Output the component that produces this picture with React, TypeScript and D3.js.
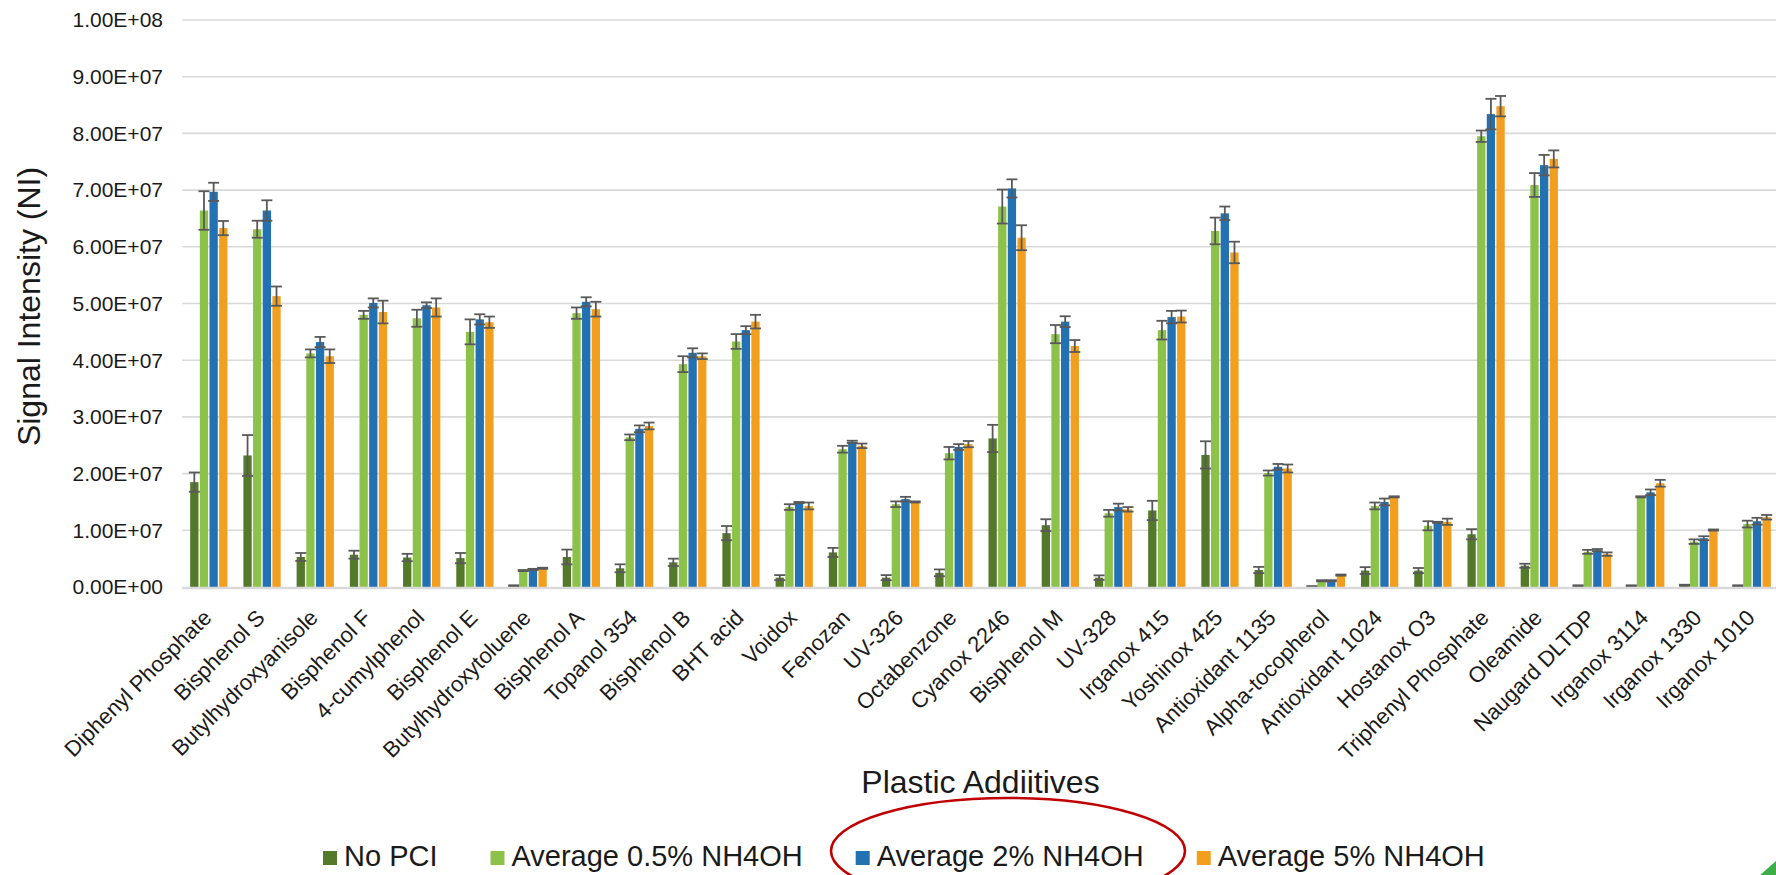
import React, { useEffect, useRef } from 'react';
import * as d3 from 'd3';

const categories = [
  'Diphenyl Phosphate', 'Bisphenol S', 'Butylhydroxyanisole', 'Bisphenol F', '4-cumylphenol',
  'Bisphenol E', 'Butylhydroxytoluene', 'Bisphenol A', 'Topanol 354', 'Bisphenol B',
  'BHT acid', 'Voidox', 'Fenozan', 'UV-326', 'Octabenzone',
  'Cyanox 2246', 'Bisphenol M', 'UV-328', 'Irganox 415', 'Yoshinox 425',
  'Antioxidant 1135', 'Alpha-tocopherol', 'Antioxidant 1024', 'Hostanox O3', 'Triphenyl Phosphate',
  'Oleamide', 'Naugard DLTDP', 'Irganox 3114', 'Irganox 1330', 'Irganox 1010',
];

const seriesNames = ['No PCI', 'Average 0.5% NH4OH', 'Average 2% NH4OH', 'Average 5% NH4OH'];
const seriesColors = ['#55792B', '#8DC24A', '#2271B3', '#F29E1F'];

// values in units of 1e7
const noPci = [1.85, 2.32, 0.53, 0.57, 0.52, 0.51, 0.02, 0.53, 0.33, 0.435, 0.95, 0.165, 0.61, 0.165, 0.25, 2.62, 1.09, 0.165, 1.35, 2.33, 0.30, 0.01, 0.29, 0.29, 0.93, 0.375, 0.02, 0.02, 0.03, 0.02];
const avg05 = [6.64, 6.31, 4.12, 4.80, 4.74, 4.50, 0.29, 4.83, 2.64, 3.93, 4.33, 1.41, 2.43, 1.46, 2.36, 6.71, 4.46, 1.30, 4.53, 6.28, 2.01, 0.11, 1.43, 1.08, 7.95, 7.09, 0.62, 1.59, 0.80, 1.11];
const avg2 = [6.97, 6.64, 4.32, 5.01, 4.97, 4.72, 0.31, 5.03, 2.79, 4.13, 4.53, 1.49, 2.56, 1.55, 2.47, 7.03, 4.68, 1.41, 4.76, 6.59, 2.12, 0.11, 1.50, 1.14, 8.34, 7.44, 0.65, 1.67, 0.86, 1.16];
const avg5 = [6.33, 5.13, 4.07, 4.85, 4.93, 4.67, 0.33, 4.90, 2.84, 4.07, 4.68, 1.43, 2.49, 1.50, 2.52, 6.16, 4.25, 1.37, 4.77, 5.90, 2.09, 0.21, 1.59, 1.15, 8.48, 7.55, 0.58, 1.83, 1.005, 1.23];

const errNoPci = [0.17, 0.36, 0.07, 0.07, 0.065, 0.09, 0.01, 0.13, 0.07, 0.065, 0.125, 0.045, 0.08, 0.045, 0.06, 0.24, 0.105, 0.04, 0.17, 0.24, 0.055, 0.005, 0.06, 0.045, 0.09, 0.035, 0.01, 0.01, 0.01, 0.01];
const err05 = [0.34, 0.15, 0.07, 0.07, 0.15, 0.22, 0.01, 0.10, 0.05, 0.14, 0.13, 0.05, 0.06, 0.05, 0.11, 0.30, 0.16, 0.06, 0.165, 0.235, 0.045, 0.01, 0.06, 0.08, 0.10, 0.21, 0.035, 0.01, 0.04, 0.06];
const err2 = [0.16, 0.18, 0.09, 0.08, 0.05, 0.09, 0.01, 0.08, 0.06, 0.08, 0.07, 0.01, 0.02, 0.04, 0.05, 0.16, 0.095, 0.06, 0.11, 0.12, 0.05, 0.01, 0.06, 0.01, 0.27, 0.18, 0.02, 0.05, 0.035, 0.06];
const err5 = [0.125, 0.17, 0.12, 0.20, 0.16, 0.10, 0.01, 0.13, 0.06, 0.05, 0.12, 0.06, 0.04, 0.01, 0.055, 0.22, 0.105, 0.04, 0.105, 0.19, 0.07, 0.01, 0.01, 0.055, 0.18, 0.15, 0.03, 0.06, 0.01, 0.04];

const yTicks = [0, 1e7, 2e7, 3e7, 4e7, 5e7, 6e7, 7e7, 8e7, 9e7, 1e8];

const FONT = '"Liberation Sans", Arial, sans-serif';

function fmtSci(v: number): string {
  if (v === 0) return '0.00E+00';
  const e = Math.floor(Math.log10(v) + 1e-9);
  const m = v / Math.pow(10, e);
  return `${m.toFixed(2)}E+${String(e).padStart(2, '0')}`;
}

export default function App() {
  const ref = useRef<SVGSVGElement>(null);

  useEffect(() => {
    const svg = d3.select(ref.current);
    svg.selectAll('*').remove();

    const left = 182.2, right = 1778.8, top = 20, bottom = 587;
    const values = [noPci, avg05, avg2, avg5];
    const errs = [errNoPci, err05, err2, err5];

    const x0 = d3.scaleBand<string>().domain(categories).range([left, right]).paddingInner(0.3).paddingOuter(0.15);
    const x1 = d3.scaleBand<string>().domain(seriesNames).range([0, x0.bandwidth()]).paddingInner(0.14);
    const y = d3.scaleLinear().domain([0, 1e8]).range([bottom, top]);

    // gridlines
    svg.append('g').selectAll('line').data(yTicks.filter(t => t > 0)).join('line')
      .attr('x1', left).attr('x2', right)
      .attr('y1', d => y(d)).attr('y2', d => y(d))
      .attr('stroke', '#D9D9D9').attr('stroke-width', 1.6);

    // y tick labels
    svg.append('g').selectAll('text').data(yTicks).join('text')
      .attr('x', 163).attr('y', d => y(d)).attr('dy', '0.35em')
      .attr('text-anchor', 'end')
      .attr('font-family', FONT).attr('font-size', 21).attr('fill', '#1a1a1a')
      .text(d => fmtSci(d));

    // bars
    const groups = svg.append('g').selectAll('g').data(categories).join('g')
      .attr('transform', (d) => `translate(${x0(d)},0)`);

    seriesNames.forEach((s, si) => {
      groups.append('rect')
        .attr('x', x1(s)!)
        .attr('width', x1.bandwidth())
        .attr('y', (_d, i) => y(values[si][i] * 1e7))
        .attr('height', (_d, i) => bottom - y(values[si][i] * 1e7))
        .attr('fill', seriesColors[si]);
    });

    // error bars
    seriesNames.forEach((s, si) => {
      const cx = x1(s)! + x1.bandwidth() / 2;
      const eb = groups.append('g').attr('stroke', '#595959').attr('stroke-width', 1.8).attr('fill', 'none');
      eb.append('line')
        .attr('x1', cx).attr('x2', cx)
        .attr('y1', (_d, i) => y((values[si][i] + errs[si][i]) * 1e7))
        .attr('y2', (_d, i) => y(Math.max(0, values[si][i] - errs[si][i]) * 1e7));
      eb.append('line')
        .attr('x1', cx - 5.5).attr('x2', cx + 5.5)
        .attr('y1', (_d, i) => y((values[si][i] + errs[si][i]) * 1e7))
        .attr('y2', (_d, i) => y((values[si][i] + errs[si][i]) * 1e7));
      eb.append('line')
        .attr('x1', cx - 5.5).attr('x2', cx + 5.5)
        .attr('y1', (_d, i) => y(Math.max(0, values[si][i] - errs[si][i]) * 1e7))
        .attr('y2', (_d, i) => y(Math.max(0, values[si][i] - errs[si][i]) * 1e7));
    });

    // baseline
    svg.append('line')
      .attr('x1', left).attr('x2', right).attr('y1', y(0) + 1).attr('y2', y(0) + 1)
      .attr('stroke', '#D9D9D9').attr('stroke-width', 2.6);

    // category labels
    svg.append('g').selectAll('text').data(categories).join('text')
      .attr('transform', d => `translate(${x0(d)! + x0.bandwidth() / 2 + 4},619) rotate(-45)`)
      .attr('text-anchor', 'end')
      .attr('font-family', FONT).attr('font-size', 22).attr('fill', '#1a1a1a')
      .text(d => d);

    // axis titles
    svg.append('text')
      .attr('transform', `translate(40,${(top + bottom) / 2 + 3}) rotate(-90)`)
      .attr('text-anchor', 'middle')
      .attr('font-family', FONT).attr('font-size', 32).attr('fill', '#1a1a1a')
      .text('Signal Intensity (NI)');

    svg.append('text')
      .attr('x', (left + right) / 2).attr('y', 793)
      .attr('text-anchor', 'middle')
      .attr('font-family', FONT).attr('font-size', 32).attr('fill', '#1a1a1a')
      .text('Plastic Addiitives');

    // legend
    const lg = svg.append('g');
    let lx = 323;
    seriesNames.forEach((s, si) => {
      lg.append('rect').attr('x', lx).attr('y', 851).attr('width', 14).attr('height', 14).attr('fill', seriesColors[si]);
      const t = lg.append('text')
        .attr('x', lx + 21).attr('y', 866)
        .attr('font-family', FONT).attr('font-size', 29).attr('fill', '#1a1a1a')
        .text(s);
      const w = (t.node() as SVGTextElement).getComputedTextLength();
      lx = lx + 21 + w + 53;
    });

    // red highlight ellipse
    svg.append('ellipse')
      .attr('cx', 1008).attr('cy', 851).attr('rx', 177).attr('ry', 53)
      .attr('fill', 'none').attr('stroke', '#C00000').attr('stroke-width', 2.6);

    // green annotation fragment at bottom-right
    svg.append('path')
      .attr('d', 'M1759,876 L1777,860 L1777,876 Z')
      .attr('fill', '#3DAE4A');
  }, []);

  return (
    <svg
      ref={ref}
      width={1776}
      height={875}
      style={{ position: 'absolute', left: 0, top: 0, background: '#fff' }}
    />
  );
}
